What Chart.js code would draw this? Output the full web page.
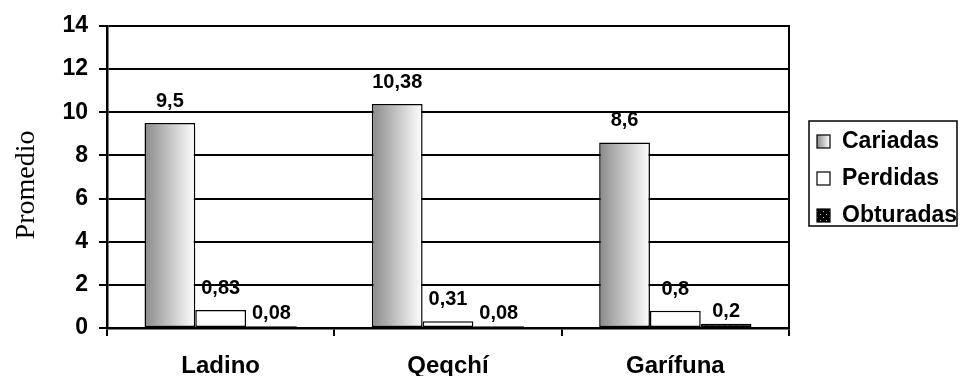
<!DOCTYPE html>
<html>
<head>
<meta charset="utf-8">
<script src="https://cdn.jsdelivr.net/npm/chart.js@4/dist/chart.umd.min.js"></script>
<style>
  html, body { margin: 0; padding: 0; background: #fff; }
  canvas { display: block; }
</style>
</head>
<body>
<canvas id="c" width="960" height="376"></canvas>
<script>
// Promedio de piezas cariadas, perdidas y obturadas por grupo étnico
const categories = ['Ladino', 'Qeqchí', 'Garífuna'];
const seriesNames = ['Cariadas', 'Perdidas', 'Obturadas'];
const cariadas = [9.5, 10.38, 8.6];
const perdidas = [0.83, 0.31, 0.8];
const obturadas = [0.08, 0.08, 0.2];
const yTickValues = [0, 2, 4, 6, 8, 10, 12, 14];
const yTitle = 'Promedio';

const SANS = '"Liberation Sans", Arial, sans-serif';
const SERIF = '"Liberation Serif", "Times New Roman", serif';
const CAT_PCT = 0.67;

// dotted black fill used for "Obturadas"
function makeDotPattern(ctx) {
  const p = document.createElement('canvas');
  p.width = 6; p.height = 4;
  const g = p.getContext('2d');
  g.fillStyle = '#000';
  g.fillRect(0, 0, 6, 4);
  g.fillStyle = '#8a8a8a';
  g.fillRect(1, 1, 1, 1);
  g.fillStyle = '#5a5a5a';
  g.fillRect(4, 3, 1, 1);
  return ctx.createPattern(p, 'repeat');
}

function makeLegendPattern(ctx) {
  const p = document.createElement('canvas');
  p.width = 6; p.height = 6;
  const g = p.getContext('2d');
  g.fillStyle = '#000';
  g.fillRect(0, 0, 6, 6);
  g.fillStyle = '#bbb';
  g.fillRect(1, 1, 1, 1);
  g.fillRect(4, 4, 1, 1);
  return ctx.createPattern(p, 'repeat');
}

// horizontal grey-to-white shading for each "Cariadas" bar
function cariadasFill(context) {
  const chart = context.chart;
  const xs = chart.scales.x;
  if (!chart.chartArea || !xs || context.dataIndex === undefined) return '#bbb';
  const center = xs.getPixelForValue(context.dataIndex);
  const catW = xs.width / categories.length;
  const groupW = catW * CAT_PCT;
  const left = center - groupW / 2;
  const barW = groupW / seriesNames.length;
  const g = chart.ctx.createLinearGradient(left, 0, left + barW, 0);
  g.addColorStop(0, '#8a8a8a');
  g.addColorStop(1, '#ffffff');
  return g;
}

const fmt = v => String(v).replace('.', ',');

const ctx = document.getElementById('c').getContext('2d');
const dotPattern = makeDotPattern(ctx);
const legendPattern = makeLegendPattern(ctx);

const frameAndLabels = {
  id: 'frameAndLabels',
  afterDatasetsDraw(chart) {
    const c = chart.ctx;
    const a = chart.chartArea;
    // right edge of plot area
    c.save();
    c.strokeStyle = '#000';
    c.lineWidth = 2;
    c.beginPath();
    c.moveTo(a.right, a.top - 1);
    c.lineTo(a.right, a.bottom);
    c.stroke();

    // value labels above the bars
    c.fillStyle = '#000';
    c.font = 'bold 20px ' + SANS;
    c.textAlign = 'center';
    c.textBaseline = 'alphabetic';
    const gaps = [16, 16, 7];
    chart.data.datasets.forEach((ds, di) => {
      const meta = chart.getDatasetMeta(di);
      meta.data.forEach((bar, i) => {
        c.fillText(fmt(ds.data[i]), bar.x, bar.y - gaps[di]);
      });
    });
    c.restore();
  },
  afterDraw(chart) {
    const c = chart.ctx;
    c.save();
    // axis title
    c.fillStyle = '#000';
    c.font = '28px ' + SERIF;
    c.textAlign = 'center';
    c.textBaseline = 'middle';
    c.translate(27, 185);
    c.rotate(-Math.PI / 2);
    c.fillText(yTitle, 0, 0);
    c.restore();

    // legend
    c.save();
    const lx = 809, ly = 121, lw = 148, lh = 105;
    c.strokeStyle = '#000';
    c.lineWidth = 1.5;
    c.strokeRect(lx, ly, lw, lh);
    const swFills = [null, '#fff', legendPattern];
    c.font = 'bold 23px ' + SANS;
    c.textBaseline = 'middle';
    c.textAlign = 'left';
    seriesNames.forEach((name, i) => {
      const cy = ly + 20 + i * 37;
      const sx = lx + 8, sy = cy - 6, s = 13;
      let fill = swFills[i];
      if (i === 0) {
        fill = c.createLinearGradient(sx, 0, sx + s, 0);
        fill.addColorStop(0, '#8a8a8a');
        fill.addColorStop(1, '#ffffff');
      }
      c.fillStyle = fill;
      c.fillRect(sx, sy, s, s);
      c.lineWidth = 1.2;
      c.strokeStyle = '#000';
      c.strokeRect(sx, sy, s, s);
      c.fillStyle = '#000';
      c.fillText(name, lx + 33, cy + 1);
    });
    c.restore();
  }
};

new Chart(ctx, {
  type: 'bar',
  data: {
    labels: categories,
    datasets: [
      { label: seriesNames[0], data: cariadas, backgroundColor: cariadasFill },
      { label: seriesNames[1], data: perdidas, backgroundColor: '#ffffff' },
      { label: seriesNames[2], data: obturadas, backgroundColor: dotPattern }
    ]
  },
  options: {
    responsive: false,
    devicePixelRatio: 1,
    animation: false,
    events: [],
    datasets: {
      bar: {
        categoryPercentage: CAT_PCT,
        barPercentage: 1,
        borderColor: '#000',
        borderWidth: 1.5,
        borderSkipped: false
      }
    },
    layout: { padding: { top: 26, right: 171, left: 0, bottom: 0 } },
    plugins: {
      legend: { display: false },
      tooltip: { enabled: false },
      title: { display: false }
    },
    scales: {
      x: {
        afterFit(s) { s.height = 48; },
        grid: {
          offset: true,
          drawOnChartArea: false,
          color: '#000',
          lineWidth: 2,
          tickLength: 8,
          tickWidth: 2
        },
        border: { color: '#000', width: 2.5 },
        ticks: {
          color: '#000',
          font: { family: SANS, size: 24, weight: 'bold' },
          padding: 16,
          maxRotation: 0
        }
      },
      y: {
        min: 0,
        max: 14,
        afterFit(s) { s.width = 107; },
        afterBuildTicks(s) { s.ticks = yTickValues.map(v => ({ value: v })); },
        grid: {
          color: '#000',
          lineWidth: 2,
          tickLength: 8,
          tickWidth: 2
        },
        border: { color: '#000', width: 2.5 },
        ticks: {
          color: '#000',
          font: { family: SANS, size: 23, weight: 'bold' },
          padding: 11
        }
      }
    }
  },
  plugins: [frameAndLabels]
});
</script>
</body>
</html>
